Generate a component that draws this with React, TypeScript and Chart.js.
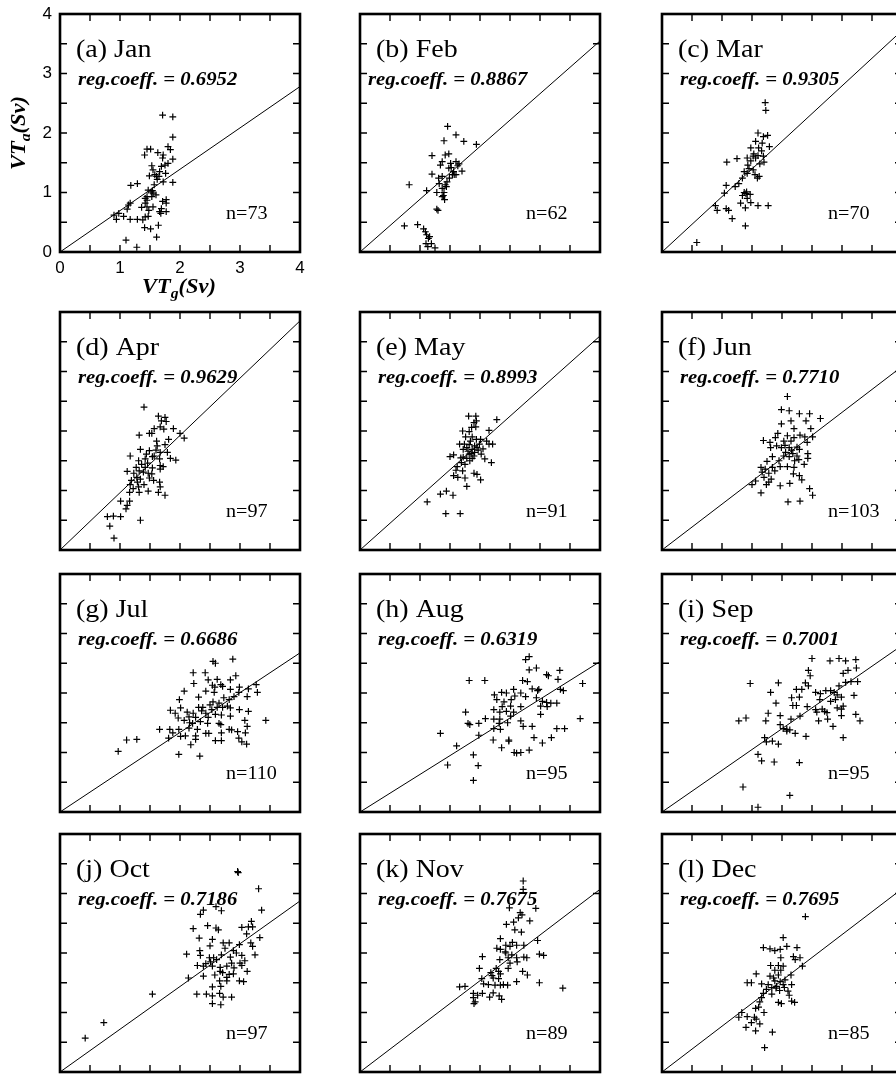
import React, { useEffect, useRef } from "react";
import { Chart, registerables } from "chart.js";

Chart.register(...registerables);

// ---------------- data ----------------
const PANEL_LABELS = ["(a) Jan", "(b) Feb", "(c) Mar", "(d) Apr", "(e) May", "(f) Jun", "(g) Jul", "(h) Aug", "(i) Sep", "(j) Oct", "(k) Nov", "(l) Dec"];
const REG_COEFFS = [0.6952, 0.8867, 0.9305, 0.9629, 0.8993, 0.771, 0.6686, 0.6319, 0.7001, 0.7186, 0.7675, 0.7695];
const REG_TEXT = ["0.6952", "0.8867", "0.9305", "0.9629", "0.8993", "0.7710", "0.6686", "0.6319", "0.7001", "0.7186", "0.7675", "0.7695"];
const COUNTS = [73, 62, 70, 97, 91, 103, 110, 95, 95, 97, 89, 85];
const AXIS_MIN = 0;
const AXIS_MAX = 4;
const TICK_STEP = 1;
const INNER_TICKS = [0.5, 1, 1.5, 2, 2.5, 3, 3.5];

const JAN = [[1.71,2.30],[1.88,2.27],[1.88,1.93],[1.45,1.73],[1.51,1.73],[1.41,1.63],[1.63,1.67],[1.80,1.77],[1.84,1.72],[1.72,1.63],[1.71,1.58],[1.88,1.56],[1.80,1.49],[1.75,1.46],[1.69,1.44],[1.53,1.45],[1.55,1.38],[1.49,1.28],[1.66,1.35],[1.76,1.32],[1.61,1.27],[1.65,1.27],[1.72,1.18],[1.88,1.17],[1.18,1.12],[1.29,1.15],[1.57,1.13],[1.47,1.04],[1.52,1.01],[1.55,0.99],[1.60,0.96],[1.42,0.90],[1.45,0.87],[1.42,0.82],[1.77,0.88],[1.77,0.82],[1.71,0.85],[1.14,0.79],[1.17,0.82],[1.12,0.72],[1.77,0.68],[1.66,0.68],[1.69,0.73],[1.55,0.76],[1.45,0.76],[1.36,0.75],[0.90,0.62],[0.98,0.65],[1.06,0.60],[0.94,0.55],[1.17,0.55],[1.29,0.55],[1.42,0.59],[1.47,0.60],[1.38,0.54],[1.41,0.41],[1.51,0.39],[1.64,0.45],[1.68,0.65],[1.61,0.25],[1.10,0.20],[1.28,0.08],[1.54,1.03],[1.53,0.93],[1.45,0.93],[1.62,1.22],[1.58,1.30],[1.48,0.70]];
const FEB = [[1.46,2.11],[1.40,1.87],[1.60,1.97],[1.73,1.86],[1.94,1.81],[1.20,1.62],[1.42,1.63],[1.48,1.65],[1.37,1.52],[1.34,1.46],[1.51,1.49],[1.60,1.52],[1.65,1.48],[1.48,1.41],[1.56,1.35],[1.60,1.30],[1.70,1.36],[1.20,1.31],[1.37,1.27],[1.54,1.30],[1.32,1.15],[1.42,1.13],[1.37,1.07],[0.82,1.13],[1.11,1.03],[1.28,1.00],[1.40,1.00],[1.37,0.93],[1.41,0.88],[1.28,0.72],[1.30,0.70],[0.74,0.44],[0.96,0.46],[1.06,0.39],[1.09,0.34],[1.11,0.29],[1.14,0.23],[1.10,0.14],[1.19,0.14],[1.25,0.07],[1.13,0.09],[1.31,1.24],[1.45,1.18],[1.49,1.24],[1.57,1.30],[1.44,1.10],[1.39,0.95],[1.52,1.42],[1.63,1.45],[1.16,0.26]];
const MAR = [[1.72,2.51],[1.73,2.38],[1.60,2.00],[1.69,1.94],[1.76,1.96],[1.56,1.86],[1.67,1.83],[1.79,1.77],[1.48,1.75],[1.61,1.75],[1.53,1.65],[1.60,1.62],[1.69,1.61],[1.42,1.58],[1.48,1.53],[1.25,1.57],[1.08,1.51],[1.43,1.46],[1.70,1.51],[1.63,1.48],[1.37,1.35],[1.42,1.32],[1.52,1.38],[1.59,1.24],[1.62,1.27],[1.34,1.24],[1.28,1.15],[1.22,1.10],[1.07,1.12],[1.04,0.99],[1.37,1.00],[1.41,1.01],[1.47,0.97],[1.34,0.95],[1.42,0.90],[1.48,0.83],[1.31,0.82],[1.60,0.78],[1.77,0.78],[1.39,0.74],[0.89,0.78],[0.92,0.70],[1.07,0.73],[1.11,0.70],[1.17,0.56],[1.39,0.44],[0.58,0.16],[1.52,1.61],[1.56,1.58],[1.45,1.40],[1.40,0.98],[1.66,1.70],[1.55,1.30]];
const APR = [[1.40,2.40],[1.64,2.25],[1.75,2.23],[1.69,2.17],[1.77,2.16],[1.57,2.04],[1.67,2.07],[1.73,2.03],[1.89,2.04],[1.49,1.96],[1.53,1.96],[1.32,1.93],[2.00,1.96],[2.07,1.88],[1.81,1.86],[1.62,1.75],[1.75,1.77],[1.34,1.69],[1.49,1.67],[1.44,1.61],[1.60,1.68],[1.67,1.64],[1.79,1.64],[1.17,1.58],[1.57,1.58],[1.31,1.50],[1.42,1.53],[1.66,1.53],[1.84,1.54],[1.93,1.51],[1.36,1.44],[1.46,1.46],[1.67,1.42],[1.72,1.40],[1.54,1.38],[1.12,1.32],[1.23,1.29],[1.32,1.33],[1.39,1.31],[1.47,1.29],[1.53,1.28],[1.67,1.36],[1.28,1.22],[1.34,1.19],[1.49,1.21],[1.17,1.10],[1.29,1.14],[1.40,1.10],[1.56,1.17],[1.66,1.14],[1.67,1.06],[1.22,1.03],[1.32,0.97],[1.47,0.99],[1.64,0.97],[1.75,0.92],[1.31,1.06],[1.01,0.82],[1.16,0.82],[1.12,0.75],[1.10,0.69],[0.79,0.56],[0.89,0.57],[1.01,0.56],[0.83,0.40],[1.34,0.50],[1.16,0.97],[1.19,1.17],[1.27,1.39],[1.42,1.39],[1.61,1.83],[1.54,1.57],[0.90,0.20]];
const MAY = [[1.81,2.25],[1.93,2.25],[2.28,2.19],[1.90,2.14],[1.94,2.17],[1.86,2.06],[1.93,2.07],[1.71,2.00],[1.82,1.99],[2.15,2.01],[1.76,1.90],[1.87,1.90],[2.01,1.86],[2.11,1.83],[2.21,1.78],[2.15,1.78],[1.66,1.78],[1.74,1.78],[1.82,1.77],[1.91,1.75],[1.99,1.78],[1.72,1.69],[1.87,1.69],[1.97,1.68],[1.82,1.61],[1.90,1.58],[2.02,1.61],[1.50,1.57],[1.56,1.60],[1.72,1.56],[1.78,1.54],[1.87,1.54],[2.08,1.53],[2.19,1.47],[1.69,1.47],[1.75,1.44],[1.62,1.40],[1.60,1.34],[1.71,1.33],[1.56,1.25],[1.63,1.22],[1.75,1.21],[1.90,1.29],[1.95,1.27],[2.01,1.18],[1.78,1.07],[1.44,0.99],[1.34,0.94],[1.55,0.92],[1.12,0.81],[1.43,0.61],[1.67,0.61],[1.84,1.83],[1.94,1.86],[1.80,1.66],[1.83,1.50],[1.91,1.64],[1.78,1.72],[1.95,1.72],[1.85,1.62],[1.68,1.55],[2.05,1.70]];
const JUN = [[2.09,2.58],[1.99,2.36],[2.12,2.34],[2.29,2.29],[2.46,2.29],[2.64,2.21],[1.99,2.12],[2.15,2.17],[2.40,2.17],[2.20,2.04],[2.48,2.04],[1.93,1.96],[2.09,1.92],[2.30,1.93],[2.38,1.90],[2.51,1.90],[1.69,1.84],[1.80,1.81],[1.91,1.75],[2.03,1.83],[2.15,1.83],[2.42,1.81],[1.81,1.72],[1.99,1.72],[2.12,1.72],[2.25,1.73],[2.06,1.64],[2.16,1.68],[2.29,1.69],[2.43,1.62],[2.03,1.58],[2.12,1.57],[2.25,1.58],[1.84,1.57],[2.43,1.54],[1.75,1.49],[2.21,1.50],[2.37,1.44],[1.65,1.39],[1.72,1.36],[1.84,1.39],[1.97,1.40],[2.09,1.40],[2.20,1.39],[1.67,1.31],[1.78,1.29],[1.88,1.33],[2.19,1.28],[2.29,1.25],[1.70,1.22],[1.82,1.19],[2.33,1.18],[1.56,1.16],[1.78,1.14],[1.97,1.08],[1.50,1.10],[1.74,1.10],[2.13,1.12],[1.65,0.96],[2.46,1.03],[2.51,0.92],[2.10,0.81],[2.30,0.82],[2.20,1.89],[1.89,1.89],[2.05,1.76],[2.18,1.62],[1.95,1.50],[2.28,1.52]];
const JUL = [[2.55,2.53],[2.59,2.50],[2.88,2.57],[2.22,2.34],[2.42,2.34],[2.23,2.16],[2.47,2.22],[2.62,2.23],[2.84,2.22],[2.93,2.29],[2.54,2.13],[2.58,2.10],[2.68,2.14],[2.71,2.11],[2.84,2.06],[2.99,2.10],[3.14,2.07],[3.27,2.14],[2.07,2.03],[2.31,1.93],[2.43,2.03],[2.57,2.01],[2.73,1.92],[2.82,1.89],[2.90,1.94],[2.98,2.01],[3.12,1.94],[3.29,2.01],[1.99,1.89],[2.01,1.75],[2.55,1.85],[2.65,1.83],[2.31,1.76],[2.38,1.76],[2.53,1.72],[2.62,1.76],[2.71,1.76],[2.79,1.78],[2.84,1.75],[2.99,1.72],[3.14,1.69],[1.84,1.71],[1.92,1.66],[2.12,1.68],[2.22,1.66],[2.43,1.66],[2.59,1.64],[2.69,1.63],[2.84,1.61],[1.97,1.58],[2.07,1.54],[2.15,1.60],[2.26,1.59],[2.47,1.59],[3.08,1.54],[3.43,1.54],[2.21,1.49],[2.34,1.52],[2.46,1.49],[2.65,1.49],[3.12,1.44],[2.68,1.47],[1.66,1.39],[1.83,1.39],[1.88,1.33],[1.98,1.39],[2.15,1.41],[2.29,1.39],[2.43,1.32],[2.48,1.32],[2.69,1.33],[2.82,1.39],[2.86,1.38],[2.96,1.35],[3.09,1.33],[1.81,1.24],[2.01,1.27],[2.09,1.28],[2.26,1.28],[2.59,1.20],[2.69,1.20],[2.98,1.24],[3.03,1.18],[3.11,1.14],[1.11,1.21],[1.28,1.22],[0.97,1.02],[2.18,1.13],[2.26,1.22],[1.98,0.97],[2.33,0.94],[2.36,1.70],[2.50,1.80],[2.16,1.50]];
const AUG = [[2.82,2.61],[2.76,2.56],[2.82,2.39],[2.94,2.42],[1.82,2.21],[2.08,2.21],[3.11,2.31],[3.14,2.29],[3.33,2.38],[3.30,2.23],[3.71,2.16],[2.71,2.21],[2.79,2.19],[2.56,2.06],[2.44,2.00],[2.36,2.01],[2.24,1.97],[2.28,1.89],[2.68,2.00],[2.87,2.07],[2.96,2.04],[2.98,2.06],[3.34,2.06],[3.39,2.04],[2.76,1.94],[2.94,1.92],[3.04,1.86],[3.11,1.84],[3.18,1.83],[3.28,1.83],[2.52,1.89],[2.37,1.77],[2.51,1.78],[2.68,1.77],[3.01,1.78],[3.12,1.77],[2.23,1.72],[2.33,1.68],[2.44,1.69],[2.56,1.68],[2.09,1.57],[2.23,1.56],[2.33,1.56],[2.51,1.61],[3.01,1.64],[1.76,1.68],[1.80,1.49],[1.83,1.47],[1.98,1.49],[2.32,1.49],[2.46,1.50],[2.68,1.53],[2.23,1.40],[2.34,1.39],[2.72,1.44],[2.87,1.44],[3.28,1.40],[3.41,1.40],[3.67,1.57],[1.34,1.32],[1.98,1.29],[2.22,1.21],[2.48,1.21],[2.90,1.25],[3.04,1.16],[3.19,1.25],[2.36,1.08],[1.61,1.11],[2.57,1.00],[2.61,0.99],[2.68,1.00],[2.82,1.04],[1.89,0.96],[1.46,0.79],[1.97,0.78],[1.89,0.53],[2.48,1.19],[2.40,1.85],[2.58,1.95]];
const SEP = [[2.50,2.58],[2.80,2.54],[2.95,2.58],[3.06,2.54],[3.23,2.56],[3.24,2.42],[3.10,2.38],[3.02,2.33],[2.44,2.38],[2.47,2.29],[2.39,2.17],[2.44,2.12],[3.06,2.18],[3.15,2.19],[3.26,2.19],[2.95,2.12],[1.47,2.16],[1.94,2.17],[2.33,2.06],[2.24,2.06],[1.81,2.01],[2.56,2.01],[2.64,1.99],[2.73,2.04],[2.81,2.04],[2.87,2.01],[2.92,1.97],[2.99,1.93],[3.20,1.96],[2.16,1.92],[2.29,1.93],[2.63,1.89],[2.81,1.86],[2.89,1.89],[1.90,1.83],[2.18,1.79],[2.24,1.79],[2.42,1.77],[3.02,1.78],[2.92,1.75],[2.99,1.73],[2.56,1.72],[2.67,1.73],[1.77,1.66],[1.97,1.62],[2.58,1.68],[2.71,1.69],[2.75,1.67],[2.30,1.61],[2.99,1.62],[3.23,1.64],[1.28,1.53],[1.40,1.58],[1.73,1.53],[1.97,1.47],[2.15,1.56],[2.61,1.53],[2.76,1.56],[3.30,1.53],[2.85,1.44],[2.02,1.40],[2.08,1.39],[2.13,1.38],[2.22,1.32],[2.40,1.27],[3.02,1.25],[1.71,1.25],[1.74,1.18],[1.84,1.19],[1.94,1.14],[1.60,0.97],[1.66,0.86],[1.87,0.84],[2.29,0.83],[1.35,0.42],[2.13,0.28],[1.60,0.08],[2.08,1.36]];
const OCT = [[2.96,3.37],[2.97,3.35],[3.31,3.08],[3.36,2.72],[2.39,2.72],[2.34,2.65],[2.60,2.78],[2.69,2.71],[2.46,2.46],[2.60,2.42],[2.64,2.39],[2.22,2.41],[2.32,2.25],[3.03,2.43],[3.14,2.44],[3.19,2.53],[3.21,2.44],[3.11,2.32],[3.33,2.26],[2.54,2.23],[2.72,2.17],[2.82,2.17],[2.99,2.14],[3.18,2.17],[3.21,2.11],[2.75,2.08],[2.89,2.04],[2.11,1.98],[2.33,2.04],[2.34,1.96],[2.49,1.92],[2.69,1.97],[2.84,1.93],[2.94,2.00],[3.03,1.96],[3.25,1.97],[2.43,1.82],[2.51,1.85],[2.61,1.89],[2.86,1.83],[3.00,1.83],[3.08,1.87],[2.29,1.79],[2.39,1.78],[2.54,1.78],[2.67,1.76],[2.78,1.78],[2.90,1.75],[3.03,1.79],[2.67,1.69],[2.71,1.67],[2.89,1.65],[3.12,1.69],[2.39,1.61],[2.58,1.63],[2.78,1.59],[2.82,1.64],[2.14,1.58],[2.66,1.53],[2.78,1.53],[2.99,1.53],[3.06,1.52],[2.54,1.43],[2.68,1.44],[2.28,1.31],[2.44,1.31],[2.54,1.28],[2.66,1.32],[2.72,1.26],[2.86,1.26],[2.54,1.15],[2.68,1.13],[1.54,1.31],[0.73,0.83],[0.42,0.57],[2.50,2.12],[2.56,1.92]];
const NOV = [[2.72,3.21],[2.72,3.07],[2.49,2.76],[2.67,2.68],[2.70,2.64],[2.64,2.59],[2.93,2.75],[2.83,2.54],[2.44,2.48],[2.56,2.52],[2.58,2.39],[2.69,2.35],[2.34,2.24],[2.96,2.21],[2.54,2.18],[2.43,2.13],[2.50,2.11],[2.61,2.13],[2.73,2.13],[2.34,2.06],[2.43,2.00],[2.53,1.97],[2.04,1.94],[2.33,1.89],[2.47,1.92],[2.61,1.92],[2.73,1.93],[2.78,1.92],[2.99,1.98],[3.06,1.96],[2.50,1.83],[2.62,1.85],[1.99,1.74],[2.27,1.74],[2.47,1.74],[2.18,1.67],[2.31,1.69],[2.34,1.65],[2.71,1.69],[2.79,1.63],[2.03,1.57],[2.22,1.58],[2.31,1.57],[2.06,1.48],[2.14,1.47],[2.25,1.46],[2.34,1.46],[2.46,1.46],[2.61,1.52],[2.99,1.50],[3.38,1.41],[1.66,1.43],[1.75,1.44],[1.89,1.32],[1.96,1.29],[2.04,1.32],[1.89,1.25],[1.92,1.18],[2.16,1.26],[2.22,1.33],[2.32,1.28],[2.36,1.22],[1.90,1.15],[2.28,2.08],[2.39,1.47],[2.42,2.02],[2.20,1.62]];
const DEC = [[2.39,2.61],[2.02,2.26],[1.69,2.09],[1.80,2.07],[1.88,2.04],[1.97,2.06],[2.08,2.11],[2.25,2.09],[1.98,1.92],[2.19,1.94],[2.22,1.89],[2.30,1.92],[1.81,1.79],[1.94,1.79],[2.02,1.78],[2.34,1.78],[1.88,1.71],[1.98,1.71],[1.57,1.65],[1.80,1.61],[1.94,1.63],[2.15,1.63],[1.42,1.50],[1.49,1.50],[1.66,1.48],[1.88,1.53],[1.97,1.52],[2.02,1.47],[2.16,1.47],[1.74,1.39],[1.83,1.42],[1.90,1.41],[1.96,1.37],[2.04,1.42],[2.10,1.36],[1.69,1.32],[1.83,1.31],[2.12,1.29],[1.66,1.25],[1.63,1.18],[2.16,1.19],[2.21,1.17],[1.94,1.17],[1.99,1.15],[1.56,1.07],[1.61,1.09],[1.70,1.00],[1.33,1.00],[1.28,0.92],[1.42,0.93],[1.54,0.92],[1.57,0.89],[1.49,0.83],[1.63,0.81],[1.40,0.75],[1.56,0.69],[1.84,0.67],[1.71,0.41],[1.77,1.47],[1.91,1.44],[1.86,1.58],[2.05,1.55]];

const MONTH_POINTS = [JAN, FEB, MAR, APR, MAY, JUN, JUL, AUG, SEP, OCT, NOV, DEC];

// ---------------- layout / style ----------------
const COL_LEFT = [60, 360, 662];
const ROW_TOP = [14, 312, 574, 834];
const BOX_W = 240;
const BOX_H = 238;
const PAD = 6;
const AXIS_PAD_LEFT = 60;
const AXIS_PAD_BOTTOM = 52;
const TEXT_SX = 1.12;
const SERIF = "'Liberation Serif', 'Times New Roman', serif";

function drawStretched(ctx: CanvasRenderingContext2D, text: string, x: number, y: number, font: string, sx: number) {
  ctx.save();
  ctx.translate(x, y);
  ctx.scale(sx, 1);
  ctx.font = font;
  ctx.textAlign = "left";
  ctx.textBaseline = "middle";
  ctx.fillStyle = "#000";
  ctx.fillText(text, 0, 0);
  ctx.restore();
}

function drawSubTitle(ctx: CanvasRenderingContext2D, main: string, sub: string, tail: string, cx: number, cy: number, rotate: boolean) {
  const big = `bold italic 20px ${SERIF}`;
  const small = `bold italic 14px ${SERIF}`;
  ctx.save();
  ctx.translate(cx, cy);
  if (rotate) ctx.rotate(-Math.PI / 2);
  ctx.scale(TEXT_SX, 1);
  ctx.fillStyle = "#000";
  ctx.textBaseline = "alphabetic";
  ctx.textAlign = "left";
  ctx.font = big;
  const w1 = ctx.measureText(main).width;
  const w3 = ctx.measureText(tail).width;
  ctx.font = small;
  const w2 = ctx.measureText(sub).width;
  const total = w1 + w2 + w3;
  let x = -total / 2;
  const base = 6;
  ctx.font = big;
  ctx.fillText(main, x, base);
  x += w1;
  ctx.font = small;
  ctx.fillText(sub, x, base + 5);
  x += w2;
  ctx.font = big;
  ctx.fillText(tail, x, base);
  ctx.restore();
}

function Panel({ idx }: { idx: number }) {
  const ref = useRef<HTMLCanvasElement>(null);
  const row = Math.floor(idx / 3);
  const col = idx % 3;
  const withAxes = idx === 0;
  const padL = withAxes ? AXIS_PAD_LEFT : PAD;
  const padB = withAxes ? AXIS_PAD_BOTTOM : PAD;
  const padT = withAxes ? ROW_TOP[0] : PAD;
  const cw = BOX_W + padL + PAD;
  const ch = BOX_H + padT + padB;
  const left = COL_LEFT[col] - padL;
  const top = ROW_TOP[row] - padT;

  useEffect(() => {
    if (!ref.current) return;
    const coeff = REG_COEFFS[idx];
    const pts = MONTH_POINTS[idx].map(([x, y]) => ({ x, y }));
    const regDx = idx === 1 ? 8 : 18;

    const decor = {
      id: "panelDecor",
      afterDatasetsDraw(chart: any) {
        const { ctx, chartArea: a, scales } = chart;
        const xs = scales.x;
        const ys = scales.y;
        ctx.save();
        ctx.strokeStyle = "#000";
        ctx.lineWidth = 1.4;
        const tl = 7;
        ctx.beginPath();
        for (const v of INNER_TICKS) {
          const px = xs.getPixelForValue(v);
          ctx.moveTo(px, a.top);
          ctx.lineTo(px, a.top + tl);
          ctx.moveTo(px, a.bottom);
          ctx.lineTo(px, a.bottom - tl);
          const py = ys.getPixelForValue(v);
          ctx.moveTo(a.left, py);
          ctx.lineTo(a.left + tl, py);
          ctx.moveTo(a.right, py);
          ctx.lineTo(a.right - tl, py);
        }
        ctx.stroke();
        ctx.lineWidth = 2.6;
        ctx.strokeRect(a.left, a.top, a.right - a.left, a.bottom - a.top);
        ctx.restore();

        drawStretched(ctx, PANEL_LABELS[idx], a.left + 16, a.top + 36, `25px ${SERIF}`, TEXT_SX);
        drawStretched(ctx, `reg.coeff. = ${REG_TEXT[idx]}`, a.left + regDx, a.top + 66, `bold italic 18.5px ${SERIF}`, TEXT_SX);
        drawStretched(ctx, `n=${COUNTS[idx]}`, a.left + 166, a.top + 200, `18px ${SERIF}`, TEXT_SX);

        if (withAxes) {
          drawSubTitle(ctx, "VT", "g", "(Sv)", a.left + 119, a.bottom + 35, false);
          drawSubTitle(ctx, "VT", "a", "(Sv)", a.left - 41, a.top + 119, true);
        }
      },
    };

    const tickFont = { family: "'Liberation Sans', Arial, sans-serif", size: 17 };

    const chart = new Chart(ref.current, {
      type: "scatter",
      data: {
        datasets: [
          {
            data: [
              { x: AXIS_MIN, y: AXIS_MIN },
              { x: AXIS_MAX, y: AXIS_MAX * coeff },
            ],
            showLine: true,
            borderColor: "#000",
            borderWidth: 1,
            pointRadius: 0,
            fill: false,
          },
          {
            data: pts,
            pointStyle: "cross",
            pointRadius: 3.4,
            borderColor: "#000",
            backgroundColor: "#000",
            borderWidth: 1.2,
          },
        ],
      },
      options: {
        responsive: false,
        maintainAspectRatio: false,
        animation: false,
        devicePixelRatio: 1,
        events: [],
        layout: { padding: { top: padT, right: PAD, left: 0, bottom: 0 } },
        plugins: { legend: { display: false }, tooltip: { enabled: false } },
        scales: {
          x: {
            type: "linear",
            position: "bottom",
            min: AXIS_MIN,
            max: AXIS_MAX,
            grid: { display: false, drawTicks: false },
            border: { display: false },
            ticks: {
              display: withAxes,
              stepSize: TICK_STEP,
              padding: 6,
              color: "#000",
              font: tickFont,
              maxRotation: 0,
              autoSkip: false,
            },
            afterFit: (s: any) => {
              s.height = padB;
              s.paddingLeft = 0;
              s.paddingRight = 0;
            },
          },
          y: {
            type: "linear",
            position: "left",
            min: AXIS_MIN,
            max: AXIS_MAX,
            grid: { display: false, drawTicks: false },
            border: { display: false },
            ticks: {
              display: withAxes,
              stepSize: TICK_STEP,
              padding: 8,
              color: "#000",
              font: tickFont,
              autoSkip: false,
            },
            afterFit: (s: any) => {
              s.width = padL;
              s.paddingTop = 0;
              s.paddingBottom = 0;
            },
          },
        },
      } as any,
      plugins: [decor],
    });
    return () => chart.destroy();
  }, [idx]);

  return (
    <canvas
      ref={ref}
      width={cw}
      height={ch}
      style={{ position: "absolute", left, top, width: cw, height: ch }}
    />
  );
}

export default function App() {
  return (
    <div
      style={{
        position: "absolute",
        left: 0,
        top: 0,
        width: 896,
        height: 1074,
        overflow: "hidden",
        background: "#fff",
      }}
    >
      {MONTH_POINTS.map((_, i) => (
        <Panel key={i} idx={i} />
      ))}
    </div>
  );
}
